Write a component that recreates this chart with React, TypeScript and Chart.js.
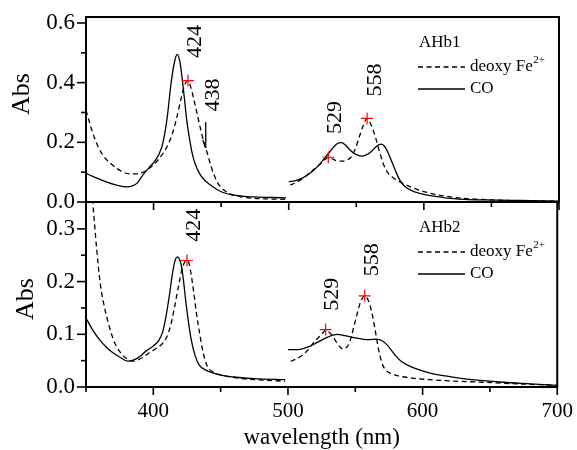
import { useEffect, useRef } from 'react';
import { Chart, registerables } from 'chart.js';

Chart.register(...registerables);

const SERIF = '"Liberation Serif", "Times New Roman", serif';

// ---------- axis ticks ----------
const X_MAJOR = [400, 500, 600, 700];
const X_MINOR = [350, 450, 550, 650];
const TOP_Y_MAJOR = [0, 0.2, 0.4, 0.6];
const TOP_Y_MINOR = [0.1, 0.3, 0.5];
const BOT_Y_MAJOR = [0, 0.1, 0.2, 0.3];
const BOT_Y_MINOR = [0.05, 0.15, 0.25];

// ---------- AHb1 (top panel) ----------
const AHB1_CO_UV_WL = [350, 358, 366, 374, 380, 384, 388, 392, 396, 400, 404, 407, 410, 413, 415.5, 417.5, 419.5, 421, 423, 424.5, 426.5, 428.5, 431, 434.5, 438, 442, 447, 452, 458, 465, 475, 487, 498];
const AHB1_CO_UV_ABS = [0.096, 0.080, 0.066, 0.055, 0.051, 0.053, 0.064, 0.090, 0.112, 0.132, 0.160, 0.200, 0.280, 0.400, 0.470, 0.495, 0.470, 0.420, 0.340, 0.275, 0.215, 0.165, 0.125, 0.092, 0.072, 0.057, 0.042, 0.031, 0.024, 0.020, 0.017, 0.015, 0.014];
const AHB1_DEOXY_UV_WL = [350, 353, 356, 360, 364, 368, 373, 378, 383, 388, 392, 396, 400, 404, 408, 411, 414, 417, 420, 422.5, 425, 427.5, 430, 432.5, 435, 437.5, 440, 442.5, 445, 448, 452, 458, 465, 475, 487, 498];
const AHB1_DEOXY_UV_ABS = [0.308, 0.260, 0.218, 0.176, 0.148, 0.130, 0.112, 0.099, 0.094, 0.094, 0.099, 0.110, 0.125, 0.145, 0.170, 0.195, 0.230, 0.280, 0.340, 0.385, 0.405, 0.385, 0.340, 0.290, 0.240, 0.195, 0.160, 0.120, 0.088, 0.060, 0.040, 0.025, 0.017, 0.012, 0.010, 0.009];
const AHB1_CO_VIS_WL = [500, 505, 510, 515, 520, 525, 529, 533, 536, 539, 542, 545, 548, 551, 554, 557, 560, 563, 566, 568.5, 571, 573.5, 576, 579, 582, 586, 591, 597, 605, 617, 630, 645, 670, 700];
const AHB1_CO_VIS_ABS = [0.068, 0.072, 0.080, 0.094, 0.113, 0.138, 0.160, 0.183, 0.196, 0.199, 0.191, 0.176, 0.164, 0.157, 0.154, 0.157, 0.165, 0.178, 0.190, 0.194, 0.186, 0.166, 0.138, 0.105, 0.075, 0.052, 0.038, 0.029, 0.021, 0.013, 0.009, 0.007, 0.005, 0.003];
const AHB1_DEOXY_VIS_WL = [501, 505, 510, 515, 520, 524, 527, 529.3, 532, 535, 539, 543, 546, 549, 552, 555, 558, 561, 564, 567, 570, 573, 577, 582, 588, 595, 605, 617, 630, 650, 675, 700];
const AHB1_DEOXY_VIS_ABS = [0.057, 0.064, 0.078, 0.096, 0.114, 0.130, 0.143, 0.150, 0.145, 0.139, 0.137, 0.140, 0.150, 0.175, 0.215, 0.255, 0.280, 0.258, 0.220, 0.172, 0.128, 0.100, 0.082, 0.068, 0.055, 0.042, 0.029, 0.019, 0.012, 0.007, 0.004, 0.003];
const AHB1_MARK_WL = [425.5, 529.3, 558];
const AHB1_MARK_ABS = [0.407, 0.150, 0.280];

// ---------- AHb2 (bottom panel) ----------
const AHB2_CO_UV_WL = [350, 355, 360, 365, 370, 375, 381, 386, 390, 395, 400, 404, 407, 409.5, 412, 414.5, 416.5, 418, 419.5, 421, 422.5, 424, 426, 428, 431, 434, 439, 444, 451, 460, 475, 498];
const AHB2_CO_UV_ABS = [0.131, 0.108, 0.090, 0.076, 0.065, 0.057, 0.049, 0.052, 0.058, 0.069, 0.078, 0.088, 0.105, 0.135, 0.175, 0.220, 0.243, 0.247, 0.242, 0.228, 0.200, 0.165, 0.125, 0.092, 0.060, 0.042, 0.032, 0.027, 0.022, 0.019, 0.016, 0.014];
const AHB2_DEOXY_UV_WL = [350, 352, 354, 356, 358, 360.4, 363, 366, 369, 372, 376, 380, 384, 388, 392, 397, 402, 407, 410, 413, 416, 419, 421.5, 423.5, 425, 426.5, 428, 430, 432, 434.4, 437, 440, 444, 450, 460, 475, 498];
const AHB2_DEOXY_UV_ABS = [0.55, 0.46, 0.385, 0.32, 0.26, 0.200, 0.160, 0.127, 0.100, 0.080, 0.064, 0.054, 0.049, 0.051, 0.056, 0.065, 0.073, 0.083, 0.095, 0.118, 0.155, 0.195, 0.225, 0.238, 0.240, 0.235, 0.215, 0.180, 0.140, 0.102, 0.065, 0.040, 0.029, 0.023, 0.018, 0.014, 0.011];
const AHB2_CO_VIS_WL = [500, 505, 510, 515, 520, 525, 530, 534, 537, 541, 545, 550, 555, 560, 565, 568, 571, 574, 577, 580, 584, 590, 597, 605, 617, 630, 645, 660, 680, 700];
const AHB2_CO_VIS_ABS = [0.071, 0.071, 0.072, 0.076, 0.082, 0.089, 0.095, 0.099, 0.100, 0.098, 0.096, 0.093, 0.091, 0.090, 0.091, 0.090, 0.086, 0.079, 0.069, 0.059, 0.049, 0.040, 0.033, 0.027, 0.021, 0.016, 0.012, 0.009, 0.006, 0.003];
const AHB2_DEOXY_VIS_WL = [502, 506, 511, 515, 519, 523, 526, 528, 530, 533, 536, 539, 541, 543, 545, 547, 549, 551.5, 554, 557, 559.5, 562, 564.5, 567, 569.5, 572, 576, 582, 592, 605, 625, 645, 670, 700];
const AHB2_DEOXY_VIS_ABS = [0.049, 0.053, 0.061, 0.071, 0.084, 0.095, 0.103, 0.108, 0.105, 0.097, 0.085, 0.075, 0.072, 0.074, 0.080, 0.095, 0.115, 0.140, 0.162, 0.173, 0.165, 0.145, 0.112, 0.075, 0.048, 0.034, 0.026, 0.021, 0.017, 0.014, 0.011, 0.009, 0.006, 0.003];
const AHB2_MARK_WL = [425, 528, 557];
const AHB2_MARK_ABS = [0.240, 0.109, 0.173];

// ---------- text ----------
const X_TITLE = 'wavelength (nm)';
const Y_TITLE = 'Abs';
const LEG_DEOXY = 'deoxy Fe';
const LEG_DEOXY_SUP = '2+';
const LEG_CO = 'CO';

type PeakLabel = { text: string; wl: number; abs: number };

interface Panel {
  name: string;
  yMax: number;
  yMajor: number[];
  yMinor: number[];
  coUv: [number[], number[]];
  coVis: [number[], number[]];
  deoxyUv: [number[], number[]];
  deoxyVis: [number[], number[]];
  marks: [number[], number[]];
  peaks: PeakLabel[];
  arrow?: { wl: number; from: number; to: number };
  padTop: number;
  xAxisHeight: number;
  absX: number;
  absDy: number;
  showX: boolean;
}

const TOP_PANEL: Panel = {
  name: 'AHb1',
  yMax: 0.62,
  yMajor: TOP_Y_MAJOR,
  yMinor: TOP_Y_MINOR,
  coUv: [AHB1_CO_UV_WL, AHB1_CO_UV_ABS],
  coVis: [AHB1_CO_VIS_WL, AHB1_CO_VIS_ABS],
  deoxyUv: [AHB1_DEOXY_UV_WL, AHB1_DEOXY_UV_ABS],
  deoxyVis: [AHB1_DEOXY_VIS_WL, AHB1_DEOXY_VIS_ABS],
  marks: [AHB1_MARK_WL, AHB1_MARK_ABS],
  peaks: [
    { text: '424', wl: 430.7, abs: 0.538 },
    { text: '438', wl: 444, abs: 0.359 },
    { text: '529', wl: 534.3, abs: 0.283 },
    { text: '558', wl: 563.9, abs: 0.409 },
  ],
  arrow: { wl: 438.6, from: 0.268, to: 0.181 },
  padTop: 17,
  xAxisHeight: 248,
  absX: 22,
  absDy: 77,
  showX: false,
};

const BOT_PANEL: Panel = {
  name: 'AHb2',
  yMax: 0.351,
  yMajor: BOT_Y_MAJOR,
  yMinor: BOT_Y_MINOR,
  coUv: [AHB2_CO_UV_WL, AHB2_CO_UV_ABS],
  coVis: [AHB2_CO_VIS_WL, AHB2_CO_VIS_ABS],
  deoxyUv: [AHB2_DEOXY_UV_WL, AHB2_DEOXY_UV_ABS],
  deoxyVis: [AHB2_DEOXY_VIS_WL, AHB2_DEOXY_VIS_ABS],
  marks: [AHB2_MARK_WL, AHB2_MARK_ABS],
  peaks: [
    { text: '424', wl: 430.7, abs: 0.307 },
    { text: '529', wl: 532.8, abs: 0.176 },
    { text: '558', wl: 562.4, abs: 0.2415 },
  ],
  padTop: 202,
  xAxisHeight: 63,
  absX: 26,
  absDy: 97,
  showX: true,
};

function pts(pair: [number[], number[]]) {
  const [wl, ab] = pair;
  return wl.map((x, i) => ({ x, y: ab[i] }));
}

function makeDecor(panel: Panel) {
  return {
    id: 'decor_' + panel.name,
    afterDraw(chart: any) {
      const { ctx, chartArea: a, scales } = chart;
      const xs = scales.x;
      const ys = scales.y;
      ctx.save();
      ctx.setLineDash([]);
      ctx.strokeStyle = '#000';
      ctx.fillStyle = '#000';
      ctx.lineWidth = 2;
      ctx.strokeRect(a.left, a.top, a.right - a.left, a.bottom - a.top);

      const seg = (x1: number, y1: number, x2: number, y2: number) => {
        ctx.beginPath();
        ctx.moveTo(x1, y1);
        ctx.lineTo(x2, y2);
        ctx.stroke();
      };
      ctx.lineWidth = 1.6;
      X_MAJOR.forEach((v) => { const p = xs.getPixelForValue(v); seg(p, a.bottom, p, a.bottom + 8); });
      X_MINOR.forEach((v) => { const p = xs.getPixelForValue(v); seg(p, a.bottom, p, a.bottom + 5); });
      panel.yMajor.forEach((v) => { const p = ys.getPixelForValue(v); seg(a.left - 9, p, a.left, p); });
      panel.yMinor.forEach((v) => { const p = ys.getPixelForValue(v); seg(a.left - 5, p, a.left, p); });

      // peak labels (rotated)
      ctx.font = `22px ${SERIF}`;
      ctx.textAlign = 'center';
      ctx.textBaseline = 'middle';
      panel.peaks.forEach((l) => {
        ctx.save();
        ctx.translate(xs.getPixelForValue(l.wl), ys.getPixelForValue(l.abs));
        ctx.rotate(-Math.PI / 2);
        ctx.fillText(l.text, 0, 0);
        ctx.restore();
      });

      if (panel.arrow) {
        const px = xs.getPixelForValue(panel.arrow.wl);
        const y1 = ys.getPixelForValue(panel.arrow.from);
        const y2 = ys.getPixelForValue(panel.arrow.to);
        ctx.lineWidth = 1.3;
        seg(px, y1, px, y2);
        seg(px, y2, px - 3, y2 - 8);
      }

      // legend
      const lx = a.left + 332;
      ctx.textAlign = 'left';
      ctx.font = `17px ${SERIF}`;
      ctx.fillText(panel.name, lx + 1, a.top + 26);
      ctx.lineWidth = 1.3;
      ctx.setLineDash([5, 3.5]);
      seg(lx, a.top + 50, lx + 47, a.top + 50);
      ctx.setLineDash([]);
      ctx.fillText(LEG_DEOXY, lx + 52, a.top + 50);
      const w = ctx.measureText(LEG_DEOXY).width;
      ctx.font = `11px ${SERIF}`;
      ctx.fillText(LEG_DEOXY_SUP, lx + 52 + w + 0.5, a.top + 43);
      ctx.font = `17px ${SERIF}`;
      seg(lx, a.top + 72, lx + 47, a.top + 72);
      ctx.fillText(LEG_CO, lx + 52, a.top + 72);

      // y title
      ctx.font = `26px ${SERIF}`;
      ctx.textAlign = 'center';
      ctx.save();
      ctx.translate(panel.absX, a.top + panel.absDy);
      ctx.rotate(-Math.PI / 2);
      ctx.fillText(Y_TITLE, 0, 0);
      ctx.restore();

      if (panel.showX) {
        ctx.font = `23px ${SERIF}`;
        ctx.fillText(X_TITLE, (a.left + a.right) / 2, a.bottom + 51);
      }
      ctx.restore();
    },
  };
}

function makeConfig(panel: Panel): any {
  const lineBase = {
    borderColor: '#000',
    borderWidth: 1.3,
    pointRadius: 0,
    fill: false,
    cubicInterpolationMode: 'monotone',
  };
  return {
    type: 'line',
    data: {
      datasets: [
        {
          data: pts(panel.marks),
          showLine: false,
          pointStyle: 'cross',
          pointRadius: 6,
          pointBorderWidth: 1.2,
          pointBorderColor: '#ff0000',
          borderColor: '#ff0000',
          backgroundColor: '#ff0000',
          order: -1,
        },
        { ...lineBase, data: pts(panel.deoxyUv), borderDash: [5, 3.5] },
        { ...lineBase, data: pts(panel.deoxyVis), borderDash: [5, 3.5] },
        { ...lineBase, data: pts(panel.coUv) },
        { ...lineBase, data: pts(panel.coVis) },
      ],
    },
    options: {
      responsive: false,
      animation: false,
      devicePixelRatio: 1,
      events: [],
      layout: { padding: { top: panel.padTop, right: 18, left: 0, bottom: 0 } },
      plugins: { legend: { display: false }, tooltip: { enabled: false } },
      scales: {
        x: {
          type: 'linear',
          min: 350,
          max: 700,
          grid: { display: false, drawTicks: true, tickLength: 8 },
          border: { display: false },
          ticks: {
            display: panel.showX,
            font: { family: SERIF, size: 21 },
            color: '#000',
            padding: 4,
            maxRotation: 0,
            autoSkip: false,
            callback: (v: number) => String(v),
          },
          afterBuildTicks: (s: any) => { s.ticks = X_MAJOR.map((v) => ({ value: v })); },
          afterFit: (s: any) => { s.height = panel.xAxisHeight; },
        },
        y: {
          type: 'linear',
          min: 0,
          max: panel.yMax,
          grid: { display: false, drawTicks: true, tickLength: 8 },
          border: { display: false },
          ticks: {
            font: { family: SERIF, size: 23 },
            color: '#000',
            padding: 3,
            callback: (v: number) => Number(v).toFixed(1),
          },
          afterBuildTicks: (s: any) => { s.ticks = panel.yMajor.map((v) => ({ value: v })); },
          afterFit: (s: any) => { s.width = 86; },
        },
      },
    },
    plugins: [makeDecor(panel)],
  };
}

export default function App() {
  const topRef = useRef<HTMLCanvasElement>(null);
  const botRef = useRef<HTMLCanvasElement>(null);
  useEffect(() => {
    const c2 = new Chart(botRef.current as HTMLCanvasElement, makeConfig(BOT_PANEL));
    const c1 = new Chart(topRef.current as HTMLCanvasElement, makeConfig(TOP_PANEL));
    return () => {
      c1.destroy();
      c2.destroy();
    };
  }, []);
  const cs: any = { position: 'absolute', left: 0, top: 0, width: 577, height: 450 };
  return (
    <div style={{ position: 'absolute', left: 0, top: 0, width: 577, height: 450, background: '#fff' }}>
      <canvas ref={botRef} width={577} height={450} style={cs} />
      <canvas ref={topRef} width={577} height={450} style={cs} />
    </div>
  );
}
